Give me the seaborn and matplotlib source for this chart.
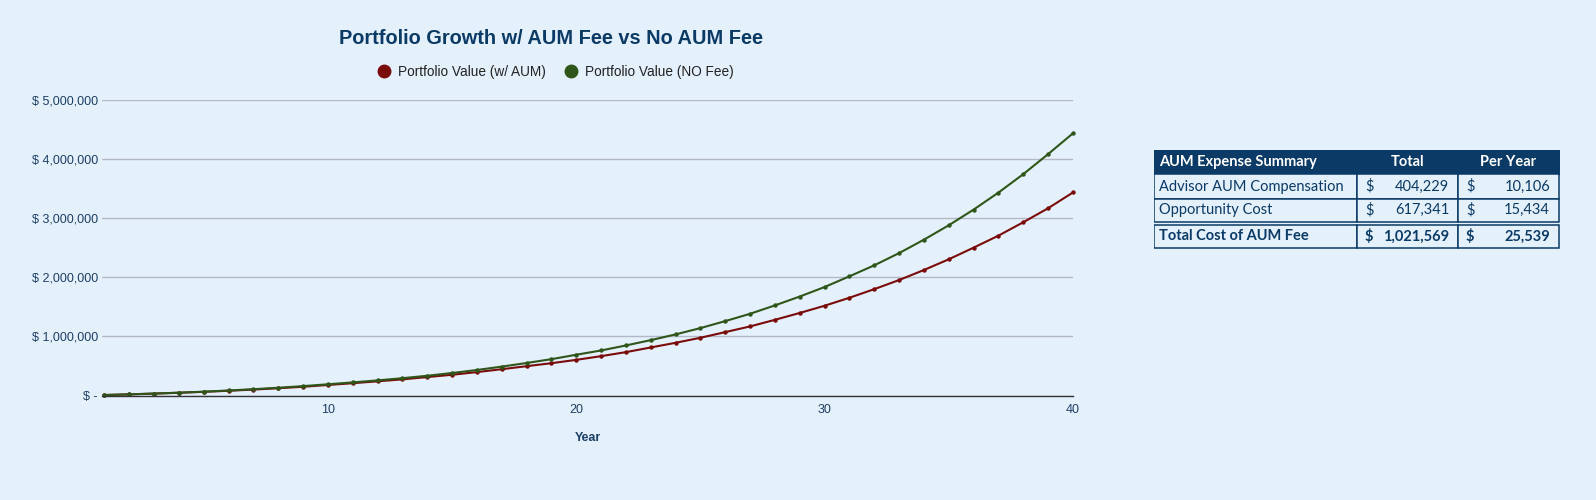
import numpy as np
import pandas as pd
import matplotlib
matplotlib.use("Agg")
import matplotlib.pyplot as plt
import seaborn as sns
from matplotlib.lines import Line2D
from matplotlib.patches import Rectangle
from matplotlib.ticker import FuncFormatter

# ---- data ----
years = list(range(1, 41))
aum_values = [8000, 19000, 32000, 46000, 62000, 80000, 100000, 123000, 148000, 178000,
              208000, 240000, 273000, 312000, 351000, 396000, 445000, 496000, 547000, 603000,
              666000, 734000, 813000, 892000, 977000, 1073000, 1169000, 1281000, 1397000, 1519000,
              1654000, 1800000, 1954000, 2124000, 2305000, 2502000, 2705000, 2932000, 3169000, 3436000]
nofee_values = [8000, 20000, 33000, 48000, 65000, 85000, 107000, 131000, 159000, 190000,
                222000, 256000, 293000, 334000, 381000, 432000, 489000, 550000, 615000, 690000,
                762000, 847000, 937000, 1034000, 1141000, 1259000, 1383000, 1525000, 1675000, 1836000,
                2017000, 2203000, 2410000, 2637000, 2881000, 3146000, 3434000, 3746000, 4085000, 4437000]
series_names = ["Portfolio Value (w/ AUM)", "Portfolio Value (NO Fee)"]
y_ticks = [0, 1000000, 2000000, 3000000, 4000000, 5000000]
x_ticks = [10, 20, 30, 40]

table_header = ["AUM Expense Summary", "Total", "Per Year"]
table_rows = ["Advisor AUM Compensation", "Opportunity Cost", "Total Cost of AUM Fee"]
table_totals = ["404,229", "617,341", "1,021,569"]
table_per_year = ["10,106", "15,434", "25,539"]

BG = "#E5F0FD"
NAVY = "#0B3A66"
TEXT = "#1E3F66"
RED = "#7A0B0B"
GREEN = "#2F561A"

sns.set_theme(style="white")
plt.rcParams["font.family"] = ["Liberation Sans", "DejaVu Sans"]

df = pd.DataFrame({
    "Year": years * 2,
    "Value": aum_values + nofee_values,
    "Series": [series_names[0]] * len(years) + [series_names[1]] * len(years),
})

fig = plt.figure(figsize=(15.96, 5.0), dpi=100)
fig.patch.set_facecolor(BG)

ax = fig.add_axes([102 / 1596, 1 - 395.5 / 500, 971 / 1596, 295.5 / 500])
ax.set_facecolor(BG)
sns.lineplot(data=df, x="Year", y="Value", hue="Series",
             palette={series_names[0]: RED, series_names[1]: GREEN},
             marker="o", markersize=3.2, markeredgewidth=0, linewidth=1.5,
             legend=False, ax=ax, clip_on=False)

ax.set_xlim(0.9, 40)
ax.set_ylim(0, 5000000)
ax.set_xticks(x_ticks)
ax.set_yticks(y_ticks)
ax.yaxis.set_major_formatter(FuncFormatter(lambda v, p: "$ -" if v == 0 else f"$ {v:,.0f}"))
ax.tick_params(axis="both", length=0, labelsize=9, labelcolor=TEXT)
ax.tick_params(axis="x", pad=6)
ax.tick_params(axis="y", pad=3)
ax.grid(axis="y", color="#B2B8C4", linewidth=1)
ax.set_axisbelow(True)
for s in ["top", "right", "left"]:
    ax.spines[s].set_visible(False)
ax.spines["bottom"].set_color("#333333")
ax.spines["bottom"].set_linewidth(1)
ax.spines["bottom"].set_zorder(3)
ax.set_ylabel("")
ax.set_xlabel("Year", fontsize=9, fontweight="bold", color=TEXT)
ax.xaxis.set_label_coords(0.5, -0.125)

fig.text(551 / 1596, 1 - 39 / 500, "Portfolio Growth w/ AUM Fee vs No AUM Fee",
         ha="center", va="center", fontsize=14.4, fontweight="bold", color=NAVY)

handles = [Line2D([], [], linestyle="", marker="o", markersize=9, color=c)
           for c in [RED, GREEN]]
fig.legend(handles, series_names, loc="center", bbox_to_anchor=(552 / 1596, 1 - 72 / 500),
           ncol=2, frameon=False, fontsize=9.8, handletextpad=0.05, columnspacing=0.8,
           labelcolor="#222222")

# ---- summary table drawn in pixel coordinates ----
tx0, tx1, ty0, ty1 = 1154, 1560, 150, 249
tax = fig.add_axes([tx0 / 1596, 1 - ty1 / 500, (tx1 - tx0) / 1596, (ty1 - ty0) / 500])
tax.set_xlim(tx0, tx1)
tax.set_ylim(ty1, ty0)
tax.axis("off")

cols = [1154, 1357, 1458, 1559]
rows = [(174.5, 198.7), (198.7, 222), (224.7, 248.3)]
tfont = ["Lato", "DejaVu Sans"]
tsize = 10.5

tax.add_patch(Rectangle((cols[0], 150), cols[3] - cols[0], 24.5, facecolor=NAVY, edgecolor=NAVY, lw=1))
tax.text(cols[0] + 5, 162.5, table_header[0], ha="left", va="center", color="white",
         fontsize=tsize, fontweight="bold", family=tfont)
tax.text((cols[1] + cols[2]) / 2, 162.5, table_header[1], ha="center", va="center", color="white",
         fontsize=tsize, fontweight="bold", family=tfont)
tax.text((cols[2] + cols[3]) / 2, 162.5, table_header[2], ha="center", va="center", color="white",
         fontsize=tsize, fontweight="bold", family=tfont)

for i, (r0, r1) in enumerate(rows):
    weight = "bold" if i == 2 else "normal"
    for c in range(3):
        tax.add_patch(Rectangle((cols[c], r0), cols[c + 1] - cols[c], r1 - r0,
                                facecolor=BG, edgecolor=NAVY, lw=1.1))
    yc = (r0 + r1) / 2
    tax.text(cols[0] + 5, yc, table_rows[i], ha="left", va="center", color=NAVY,
             fontsize=tsize, fontweight=weight, family=tfont)
    tax.text(cols[1] + 8, yc, "$", ha="left", va="center", color=NAVY,
             fontsize=tsize, fontweight=weight, family=tfont)
    tax.text(cols[2] - 9, yc, table_totals[i], ha="right", va="center", color=NAVY,
             fontsize=tsize, fontweight=weight, family=tfont)
    tax.text(cols[2] + 8, yc, "$", ha="left", va="center", color=NAVY,
             fontsize=tsize, fontweight=weight, family=tfont)
    tax.text(cols[3] - 9, yc, table_per_year[i], ha="right", va="center", color=NAVY,
             fontsize=tsize, fontweight=weight, family=tfont)

fig.savefig("out.png", dpi=100, facecolor=BG)
